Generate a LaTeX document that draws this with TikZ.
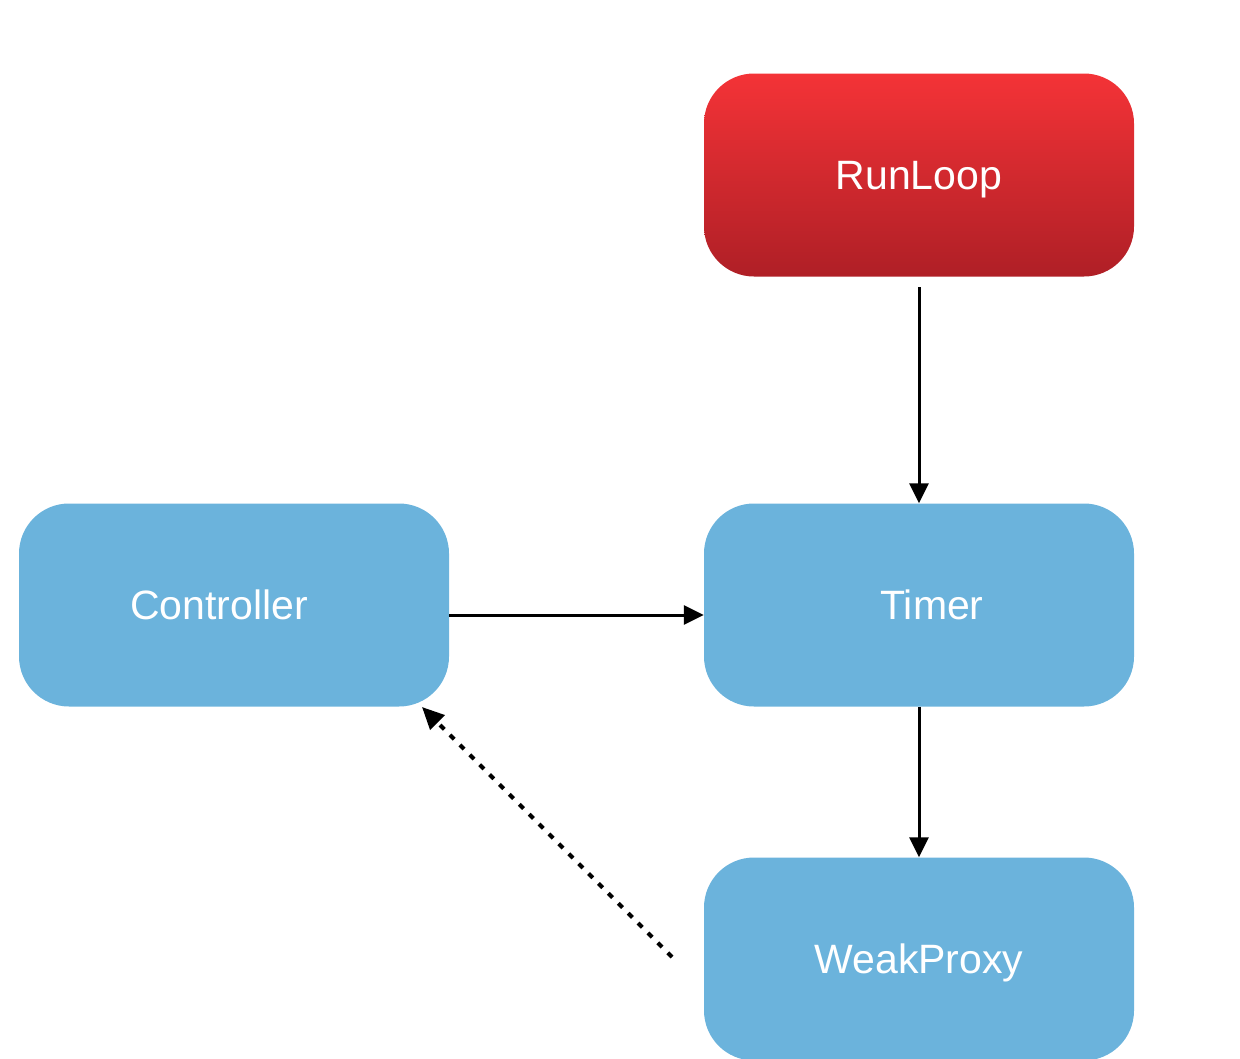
\documentclass[tikz,border=0pt]{standalone}
\usepackage{fontspec}
\setmainfont{Liberation Sans}
\usetikzlibrary{arrows.meta}
\definecolor{boxblue}{HTML}{6BB3DC}
\definecolor{redtop}{HTML}{F43337}
\definecolor{redbot}{HTML}{AF1F26}
\tikzset{
  box/.style={rectangle, rounded corners=50pt, minimum width=430pt, minimum height=203pt,
    inner sep=0pt, text=white, font=\fontsize{41}{48}\selectfont, text height=29pt, text depth=0pt},
  bluebox/.style={box, fill=boxblue},
  redbox/.style={box, top color=redtop, bottom color=redbot},
  conn/.style={line width=3pt, -{Triangle[length=20pt,width=19pt]}},
  dotconn/.style={line width=4pt, dash pattern=on 6pt off 8pt, -{Triangle[length=22pt,width=20pt]}}
}
\begin{document}
\begin{tikzpicture}[x=1pt,y=-1pt]
\useasboundingbox (0,0) rectangle (1240,1058);
\node[redbox] (runloop) at (919,175) {RunLoop};
\node[bluebox] (timer) at (919,605) {\kern26pt Timer};
\node[bluebox] (controller) at (234,605) {Controller\kern30pt};
\node[bluebox] (proxy) at (919,959) {WeakProxy};
\coordinate (rlbot) at (919,287);
\coordinate (dotstart) at (672,957);
\coordinate (dotend) at (422,707);
\draw[conn] (rlbot) -- (timer.north);
\draw[conn] (controller.east |- 0,615) -- (timer.west |- 0,615);
\draw[conn] (timer.south) -- (proxy.north);
\draw[dotconn] (dotstart) -- (dotend);
\end{tikzpicture}
\end{document}
